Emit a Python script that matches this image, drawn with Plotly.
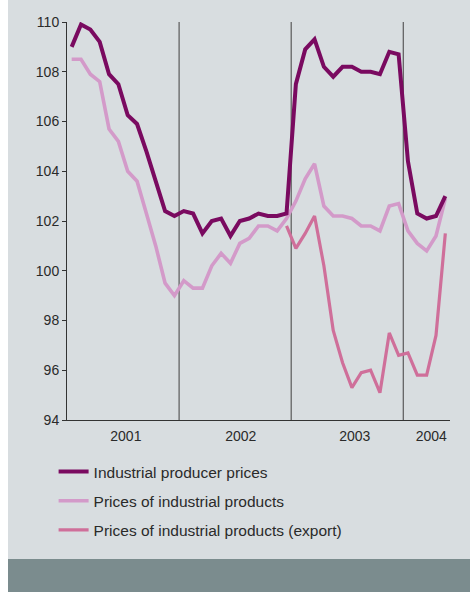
import plotly.graph_objects as go

months = list(range(41))  # Jan 2001 .. May 2004
producer = [109.0, 109.9, 109.7, 109.2, 107.9, 107.5, 106.25, 105.9, 104.8, 103.6, 102.4, 102.2,
            102.4, 102.3, 101.5, 102.0, 102.1, 101.4, 102.0, 102.1, 102.3, 102.2, 102.2, 102.3,
            107.5, 108.9, 109.3, 108.2, 107.8, 108.2, 108.2, 108.0, 108.0, 107.9, 108.8, 108.7,
            104.4, 102.3, 102.1, 102.2, 103.0]
products = [108.5, 108.5, 107.9, 107.6, 105.7, 105.2, 104.0, 103.6, 102.3, 101.0, 99.5, 99.0,
            99.6, 99.3, 99.3, 100.2, 100.7, 100.3, 101.1, 101.3, 101.8, 101.8, 101.6, 102.1,
            102.8, 103.7, 104.3, 102.6, 102.2, 102.2, 102.1, 101.8, 101.8, 101.6, 102.6, 102.7,
            101.6, 101.1, 100.8, 101.4, 102.9]
export = [None] * 23 + [101.8, 100.9, 101.5, 102.2, 100.2, 97.6, 96.3, 95.3, 95.9, 96.0, 95.1,
                        97.5, 96.6, 96.7, 95.8, 95.8, 97.4, 101.5]
year_labels = ["2001", "2002", "2003", "2004"]
year_pos = [6.3, 18.6, 30.8, 39.0]
year_bounds = [12, 24, 36]
y_ticks = [94, 96, 98, 100, 102, 104, 106, 108, 110]

x = [m + 0.5 for m in months]

C_DARK = "#7a0a60"
C_LIGHT = "#d39ac9"
C_EXP = "#cf6f9a"
BG = "#d8dde0"

fig = go.Figure()
fig.add_trace(go.Scatter(x=x, y=export, mode="lines", name="Prices of industrial products (export)",
                         line=dict(color=C_EXP, width=3.2), legendgroup="c", legendrank=3))
fig.add_trace(go.Scatter(x=x, y=products, mode="lines", name="Prices of industrial products",
                         line=dict(color=C_LIGHT, width=3.6), legendgroup="b", legendrank=2))
fig.add_trace(go.Scatter(x=x, y=producer, mode="lines", name="Industrial producer prices",
                         line=dict(color=C_DARK, width=4), legendgroup="a", legendrank=1))

L, R, T, B = 67, 20, 22, 172
W, H = 470, 592
pw, ph = W - L - R, H - T - B

shapes = []
# white strip at left
shapes.append(dict(type="rect", xref="paper", yref="paper", x0=-L / pw, x1=(8 - L) / pw,
                   y0=-2, y1=2, fillcolor="white", line=dict(width=0), layer="below"))
# dark band at bottom
shapes.append(dict(type="rect", xref="paper", yref="paper", x0=(8 - L) / pw, x1=2,
                   y0=-(H - (T + ph)) / ph - 0.1, y1=-(559 - (T + ph)) / ph,
                   fillcolor="#7b8c8e", line=dict(width=0), layer="below"))
for b in year_bounds:
    shapes.append(dict(type="line", xref="x", yref="paper", x0=b, x1=b, y0=0, y1=1,
                       line=dict(color="#5a5a5a", width=1.2), layer="below"))

fig.update_layout(
    width=W, height=H,
    margin=dict(l=L, r=R, t=T, b=B),
    paper_bgcolor=BG, plot_bgcolor=BG,
    font=dict(family="Liberation Sans, Arial, sans-serif", size=14, color="#2a2a2a"),
    shapes=shapes,
    showlegend=True,
    legend=dict(x=-0.035, xanchor="left", y=-0.088, yanchor="top", bgcolor="rgba(0,0,0,0)",
                tracegroupgap=6, font=dict(size=15.5, color="#2a2a2a"), itemwidth=30),
    xaxis=dict(range=[0, 41], tickvals=year_pos, ticktext=year_labels, ticks="",
               showgrid=False, zeroline=False, showline=True, linecolor="#333333", linewidth=1,
               tickfont=dict(size=14, color="#2a2a2a"), ticklabelstandoff=3),
    yaxis=dict(range=[94, 110], tickvals=y_ticks, ticks="outside", ticklen=4, tickcolor="#333333",
               showgrid=False, zeroline=False, showline=True, linecolor="#333333", linewidth=1,
               tickfont=dict(size=14, color="#2a2a2a")),
)

fig.write_html("out.html")
